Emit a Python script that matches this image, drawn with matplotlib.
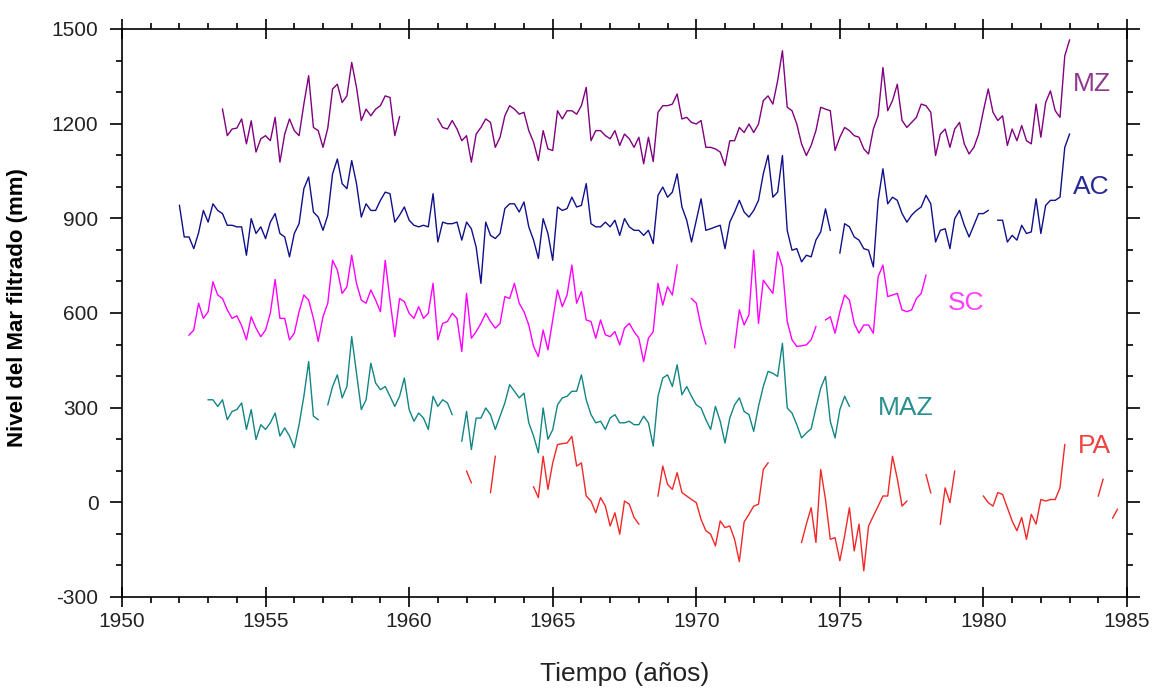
import numpy as np
import matplotlib
matplotlib.use("Agg")
from matplotlib import pyplot as plt
from matplotlib.ticker import MultipleLocator

NA = np.nan

# filtered sea level (mm), one value every two months, NA = missing data
STEP = 1.0 / 6.0

mz_start = 1953.5
mz = [1246, 1162, 1183, 1186, 1215, 1136, 1209, 1110, 1152, 1162, 1146, 1220,
      1078, 1167, 1215, 1178, 1162, 1262, 1352, 1188, 1178, 1125, 1186, 1310,
      1325, 1267, 1288, 1394, 1315, 1210, 1246, 1225, 1246, 1257, 1288, 1283,
      1162, 1222, NA, NA, NA, NA, NA, NA, NA,
      1215, 1188, 1183, 1210, 1183, 1146, 1162, 1078, 1167, 1188, 1215, 1204,
      1125, 1157, 1225, 1257, 1246, 1230, 1236, 1178, 1141, 1083, 1178, 1120,
      1115, 1241, 1215, 1241, 1241, 1230, 1257, 1315, 1146, 1178, 1178, 1162,
      1152, 1178, 1131, 1167, 1152, 1125, 1157, 1073, 1157, 1080, 1236, 1257,
      1257, 1262, 1294, 1215, 1220, 1204, 1199, 1210, 1125, 1125, 1120, 1110,
      1067, 1146, 1146, 1188, 1172, 1199, 1172, 1199, 1273, 1288, 1262, 1336,
      1431, 1252, 1241, 1199, 1136, 1099, 1131, 1178, 1252, 1246, 1241, 1115,
      1157, 1188, 1178, 1162, 1157, 1120, 1104, 1183, 1225, 1378, 1241, 1273,
      1325, 1210, 1188, 1204, 1220, 1262, 1257, 1236, 1099, 1167, 1183, 1125,
      1183, 1204, 1136, 1104, 1125, 1167, 1241, 1310, 1236, 1210, 1225, 1131,
      1183, 1146, 1194, 1146, 1136, 1262, 1157, 1267, 1304, 1241, 1220, 1415,
      1465]

ac_start = 1952.0
ac = [941, 841, 841, 804, 854, 925, 888, 946, 925, 915, 878, 878,
      873, 873, 783, 899, 852, 873, 836, 888, 915, 852, 841, 778,
      852, 883, 994, 1031, 920, 904, 862, 910, 1041, 1088, 1010, 994,
      1083, 1010, 904, 946, 925, 925, 957, 983, 978, 888, 910, 936,
      894, 878, 873, 878, 873, 978, 825, 888, 883, 883, 888, 831,
      888, 867, 809, 694, 888, 846, 836, 852, 931, 946, 946, 920,
      952, 873, 831, 773, 899, 852, 767, 936, 925, 931, 967, 936,
      941, 1010, 883, 873, 873, 888, 873, 894, 846, 899, 873, 862,
      862, 846, 862, 820, 973, 999, 967, 983, 1041, 936, 894, 825,
      894, 962, 862, 867, 873, 878, 804, 888, 920, 957, 920, 904,
      925, 957, 1041, 1100, 967, 983, 1099, 862, 799, 804, 762, 783,
      778, 831, 857, 930, 862, NA, 790, 883, 873, 841, 831, 804,
      799, 746, 957, 1057, 946, 967, 957, 915, 888, 910, 925, 936,
      973, 946, 825, 862, 867, 804, 899, 925, 878, 841, 878, 915,
      915, 925, NA, 894, 894, 825, 846, 831, 878, 852, 857, 962,
      852, 941, 957, 957, 967, 1125, 1167]

sc_start = 1952.333
sc = [530, 546, 631, 583, 604, 699, 657, 646, 610, 583, 591, 560,
      515, 588, 552, 525, 546, 600, 706, 583, 583, 515, 536, 604,
      657, 641, 583, 510, 588, 631, 767, 736, 662, 683, 783, 694,
      641, 631, 673, 641, 604, 767, 641, 525, 646, 636, 599, 583,
      620, 583, 599, 694, 515, 567, 573, 599, 583, 478, 662, 520,
      541, 567, 599, 573, 552, 567, 652, 646, 694, 631, 604, 562,
      494, 462, 546, 483, 578, 673, 620, 657, 752, 631, 668, 578,
      573, 520, 578, 531, 525, 541, 499, 552, 567, 541, 520, 446,
      520, 541, 694, 625, 683, 657, 752, NA, NA, 646, 631, 557,
      502, NA, NA, NA, NA, NA, 490, 610, 562, 594, 799, 567,
      704, 683, 662, 794, 746, 573, 515, 494, 496, 499, 515, 557,
      NA, 578, 588, 536, 604, 657, 641, 567, 536, 562, 562, 536,
      715, 752, 652, 657, 662, 610, 604, 610, 646, 662, 720]

maz_start = 1953.0
maz = [325, 325, 304, 325, 262, 288, 294, 315, 231, 294, 199, 246,
       231, 252, 283, 210, 236, 210, 173, 246, 336, 446, 273, 262,
       NA, 309, 367, 404, 331, 367, 525, 409, 294, 325, 441, 378,
       357, 367, 336, 304, 336, 394, 294, 257, 283, 267, 231, 336,
       304, 325, 315, 278, NA, 194, 288, 167, 267, 267, 299, 278,
       231, 273, 315, 373, 352, 331, 346, 252, 210, 157, 299, 200,
       230, 309, 331, 336, 352, 352, 404, 325, 278, 252, 257, 231,
       267, 278, 252, 252, 257, 246, 246, 273, 252, 178, 336, 394,
       404, 367, 436, 341, 367, 336, 309, 299, 262, 231, 304, 257,
       188, 267, 309, 331, 288, 278, 225, 304, 367, 415, 409, 399,
       504, 299, 283, 246, 204, 220, 233, 299, 362, 399, 257, 204,
       294, 336, 304]

pa_start = 1962.0
pa = [99, 62, NA, NA, NA, 31, 146, NA, NA, NA, NA, NA,
      NA, NA, 49, 15, 146, 41, 125, 183, 186, 188, 209, 115,
      125, 20, 4, -33, 15, -12, -75, -33, -101, 4, -6, -48,
      -69, NA, NA, NA, 20, 115, 57, 41, 94, 31, 20, 9,
      -1, -54, -90, -101, -138, -59, -80, -75, -117, -188, -62, -38,
      -12, -6, 104, 125, NA, NA, NA, NA, NA, NA, -127, -69,
      -17, -127, 104, 9, -117, -112, -185, -106, -17, -154, -69, -217,
      -75, -43, -12, 20, 20, 146, 75, -12, 4, NA, NA, NA,
      88, 30, NA, -69, 46, -1, 99, NA, NA, NA, NA, NA,
      20, -1, -12, 31, 25, -17, -59, -90, -48, -117, -38, -69,
      9, 4, 9, 9, 46, 183, NA, NA, NA, NA, NA, NA,
      20, 73, NA, -50, -22]

series = [
    ("MZ", mz_start, mz, "#800080", "#8e3a8e", 1983.12, 1326),
    ("AC", ac_start, ac, "#10108a", "#2a2a96", 1983.12, 998),
    ("SC", sc_start, sc, "#ff00ff", "#ff40ff", 1978.77, 632),
    ("MAZ", maz_start, maz, "#138585", "#2a9090", 1976.33, 300),
    ("PA", pa_start, pa, "#f02828", "#f04040", 1983.29, 180),
]


def main():
    plt.rcParams["font.family"] = ["Liberation Sans", "DejaVu Sans"]
    plt.rcParams["axes.unicode_minus"] = False

    fig = plt.figure(figsize=(11.54, 6.88), dpi=100)
    ax = fig.add_axes([0.10572, 0.13227, 0.87088, 0.82558])

    for name, start, vals, color, tcolor, tx, ty in series:
        vals = np.array(vals, dtype=float)
        years = start + np.arange(len(vals)) * STEP
        ax.plot(years, vals, "-", color=color, lw=1.0)
        ax.text(tx, ty, name, color=tcolor, fontsize=19, ha="left", va="center")

    ax.set_xlim(1950, 1985)
    ax.set_ylim(-300, 1500)
    ax.xaxis.set_major_locator(MultipleLocator(5))
    ax.xaxis.set_minor_locator(MultipleLocator(1))
    ax.yaxis.set_major_locator(MultipleLocator(300))
    ax.yaxis.set_minor_locator(MultipleLocator(100))

    for sp in ax.spines.values():
        sp.set_linewidth(1.2)

    ax.tick_params(which="major", direction="out", length=9, width=1.2,
                   top=True, right=True, labelsize=15, labelcolor="#222222", pad=8)
    ax.tick_params(which="minor", direction="out", length=4.5, width=1.2,
                   top=True, right=True)
    ax.tick_params(axis="x", which="major", direction="inout", length=14, pad=4)

    ax.set_xlabel("Tiempo (años)", fontsize=19, color="#222222")
    ax.xaxis.set_label_coords(0.5, -0.115)
    ax.set_ylabel("Nivel del Mar filtrado (mm)", fontsize=16, fontweight="bold")
    ax.yaxis.set_label_coords(-0.0935, 0.509)

    fig.savefig("out.png", dpi=100)


if __name__ == "__main__":
    main()
